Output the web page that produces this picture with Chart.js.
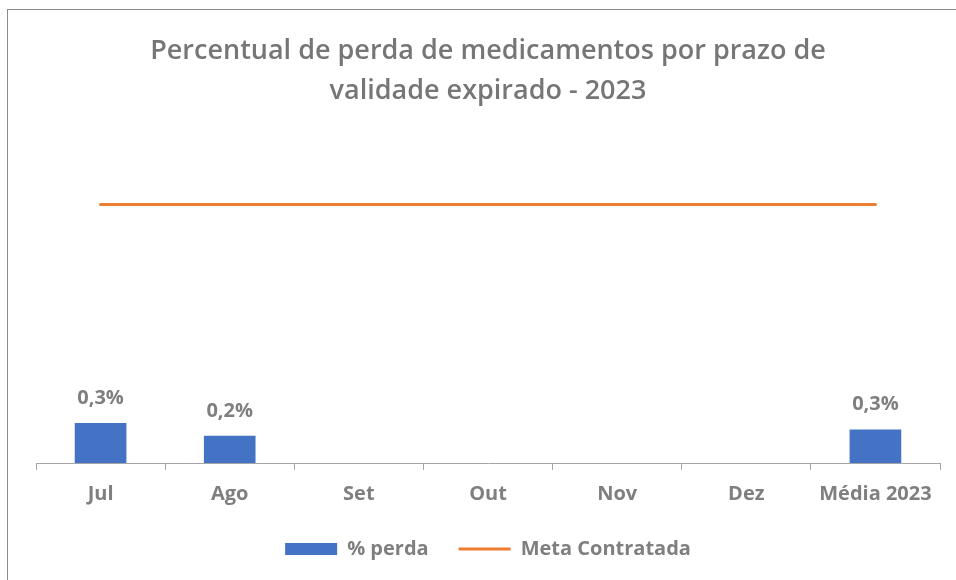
<!DOCTYPE html>
<html>
<head>
<meta charset="utf-8">
<script src="https://cdn.jsdelivr.net/npm/chart.js@4.4.0/dist/chart.umd.min.js"></script>
<style>
  html, body { margin: 0; padding: 0; background: #fff; }
  #wrap { position: relative; width: 956px; height: 580px; overflow: hidden; }
  #frame { position: absolute; left: 7px; top: 9px; right: -5px; bottom: -5px; border: 1.5px solid #8c8c8c; }
  #lossChart { position: absolute; left: 0; top: 0; }
</style>
</head>
<body>
<div id="wrap">
  <div id="frame"></div>
  <canvas id="lossChart" width="956" height="580"></canvas>
</div>
<script>
const months = ['Jul', 'Ago', 'Set', 'Out', 'Nov', 'Dez', 'Média 2023'];
const lossPct = [0.31, 0.21, null, null, null, null, 0.26];
const targetPct = [2, 2, 2, 2, 2, 2, 2];

const grayText = '#7f7f7f';

// value labels over the bars (no datalabels plugin offline)
const barLabels = {
    id: 'barLabels',
    afterLayout(chart) {
        // pull the legend a bit closer to the axis labels
        chart.legend.top -= 9;
        chart.legend.bottom -= 9;
    },
    afterDatasetsDraw(chart) {
        const ctx = chart.ctx;
        const meta = chart.getDatasetMeta(0);
        ctx.save();
        ctx.font = 'bold 20px "Open Sans"';
        ctx.fillStyle = grayText;
        ctx.textAlign = 'center';
        ctx.textBaseline = 'middle';
        meta.data.forEach((bar, i) => {
            const v = lossPct[i];
            if (v === null) return;
            ctx.fillText(v.toFixed(1).replace('.', ',') + '%', bar.x, bar.y - 25);
        });
        ctx.restore();
    }
};

const ctxLoss = document.getElementById('lossChart').getContext('2d');
const lossChart = new Chart(ctxLoss, {
    data: {
        labels: months,
        datasets: [{
            type: 'bar',
            label: '% perda',
            data: lossPct,
            backgroundColor: '#4472C4',
            borderWidth: 0,
            categoryPercentage: 0.8,
            barPercentage: 0.5,
            order: 2
        },
        {
            type: 'line',
            label: 'Meta Contratada',
            data: targetPct,
            borderColor: '#ED7D31',
            backgroundColor: '#ED7D31',
            borderWidth: 3,
            borderCapStyle: 'round',
            pointRadius: 0,
            order: 1
        }]
    },
    options: {
        responsive: false,
        animation: false,
        layout: {
            padding: { left: 36, right: 16, top: 20, bottom: 2 }
        },
        scales: {
            x: {
                offset: true,
                grid: {
                    display: true,
                    offset: true,
                    drawOnChartArea: false,
                    drawTicks: true,
                    tickLength: 7,
                    color: '#a6a6a6'
                },
                border: { display: true, color: '#a6a6a6', width: 1 },
                ticks: {
                    color: grayText,
                    font: { family: 'Open Sans', size: 20, weight: 'bold' },
                    padding: 12
                }
            },
            y: {
                display: false,
                min: 0,
                max: 2.5
            }
        },
        plugins: {
            title: {
                display: true,
                text: ['Percentual de perda de medicamentos por prazo de', 'validade expirado - 2023'],
                color: '#767676',
                font: { family: 'Open Sans', size: 27, weight: '600', lineHeight: 1.48 },
                padding: { top: 11, bottom: 29 }
            },
            legend: {
                position: 'bottom',
                labels: {
                    color: grayText,
                    font: { family: 'Open Sans', size: 20, weight: 'bold' },
                    usePointStyle: true,
                    boxHeight: 12,
                    pointStyleWidth: 52,
                    padding: 30,
                    generateLabels(chart) {
                        return chart.data.datasets.map((ds, i) => ({
                            text: ds.label,
                            fillStyle: ds.type === 'line' ? ds.borderColor : ds.backgroundColor,
                            strokeStyle: ds.type === 'line' ? ds.borderColor : ds.backgroundColor,
                            lineWidth: ds.type === 'line' ? 3 : 0,
                            pointStyle: ds.type === 'line' ? 'line' : 'rect',
                            fontColor: grayText,
                            hidden: !chart.isDatasetVisible(i),
                            datasetIndex: i
                        }));
                    }
                }
            },
            tooltip: { enabled: false }
        }
    },
    plugins: [barLabels]
});
</script>
</body>
</html>
